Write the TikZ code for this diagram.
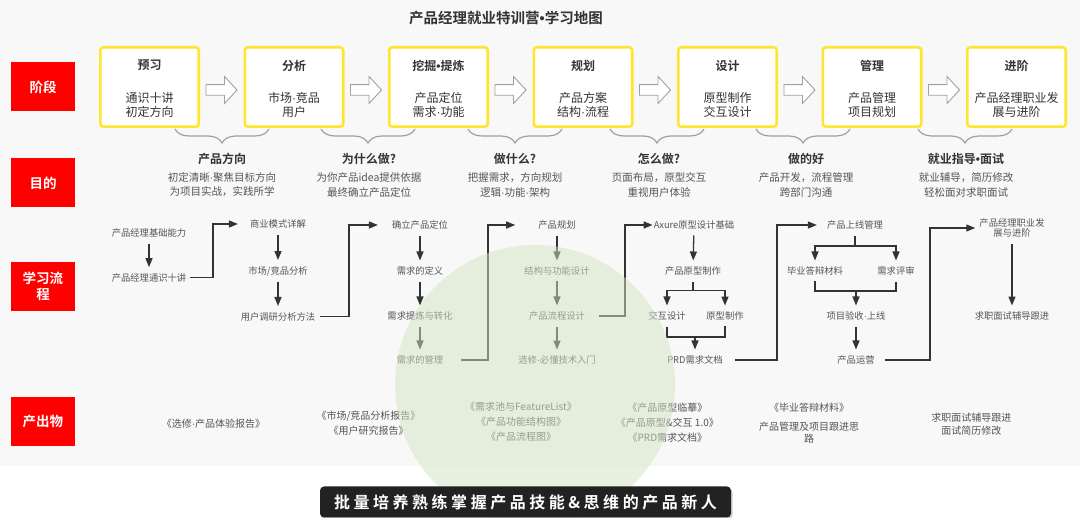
\documentclass[tikz,border=0pt]{standalone}
\usepackage{fontspec}
\setmainfont{Noto Sans CJK SC}[BoldFont={Noto Sans CJK SC Bold}]
\newfontfamily\lemafont{Noto Sans CJK SC Bold}[LetterSpace=22]
\newfontfamily\xifont{Liberation Sans}
\newcommand{\dian}{{\xifont ·}}
\newcommand{\yuan}{{\xifont •}}
\usetikzlibrary{positioning,arrows.meta,decorations.pathreplacing,shadows}
\definecolor{hong}{HTML}{FF0000}
\definecolor{huang}{HTML}{FFE52E}
\definecolor{hui}{HTML}{F8F8F8}
\definecolor{xian}{HTML}{333333}
\definecolor{wenzi}{HTML}{555555}
\definecolor{lv}{HTML}{D3E5C2}
\definecolor{kuohao}{HTML}{A0A0A0}
\definecolor{hei}{HTML}{222222}

\begin{document}
\begin{tikzpicture}[x=1pt, y=-1pt, >={Triangle[length=9pt,width=7pt]},
      tag/.style={fill=hong, text=white, font=\fontsize{13.5}{16}\selectfont\bfseries,
                  minimum width=64pt, minimum height=49pt, inner sep=0pt, align=center},
      stage/.style={draw=huang, line width=2.6pt, fill=white, rounded corners=3pt,
                    minimum width=98.4pt, minimum height=79.4pt},
      stit/.style={font=\fontsize{12}{14}\selectfont\bfseries, text=xian},
      sbody/.style={font=\fontsize{12}{14.5}\selectfont, text=xian, align=center},
      hollow/.style={draw=kuohao, fill=white, line width=0.9pt},
      brc/.style={draw=kuohao, line width=1.2pt, decorate,
                  decoration={brace, mirror, amplitude=14pt}},
      gtit/.style={font=\fontsize{12}{14}\selectfont\bfseries, text=xian},
      gbody/.style={font=\fontsize{10.5}{14.2}\selectfont, text=wenzi, align=center},
      fn/.style={font=\fontsize{9.3}{10.5}\selectfont, text=wenzi, inner xsep=0pt,
                 inner ysep=6pt, align=center},
      fl/.style={draw=xian, line width=1.3pt},
      prod/.style={font=\fontsize{10}{15}\selectfont, text=wenzi, align=center}]
    \useasboundingbox (0,0) rectangle (1080,518);
    \clip (0,0) rectangle (1080,518);
    \fill[white] (0,0) rectangle (1080,518);
    \fill[hui] (0,0) rectangle (1080,466);
    % titulo
    \node[font=\fontsize{14.5}{16}\selectfont\bfseries, text=xian] (titulo) at (506,18)
      {产品经理就业特训营\yuan 学习地图};
    % etiquetas rojas
    \node[tag] (t1) at (43,87) {阶段};
    \node[tag] (t2) at (43,183) {目的};
    \node[tag] (t3) at (43,286.7) {学习流\\程};
    \node[tag] (t4) at (43,421.6) {产出物};
    % etapas
    \foreach \t/\a/\b [count=\i] in {预习/通识十讲/初定方向, 分析/市场\dian 竞品/用户,
        挖掘\yuan 提炼/产品定位/需求\dian 功能, 规划/产品方案/结构\dian 流程, 设计/原型制作/交互设计,
        管理/产品管理/项目规划, 进阶/产品经理职业发/展与进阶} {
      \node[stage] (s\i) at ({149.5+144.5*(\i-1)},87) {};
      \node[stit] (st\i) at ({149.5+144.5*(\i-1)},65.5) {\t};
      \node[sbody] (sb\i) at ({149.5+144.5*(\i-1)},105) {\a\\\b};
    }
    \foreach \i in {1,...,6} {
      \pgfmathsetmacro{\cx}{221.5+144.5*(\i-1)}
      \draw[hollow] (\cx-15.5,84.7) -- (\cx+3,84.7) -- (\cx+3,76.5) -- (\cx+15.5,90)
        -- (\cx+3,103.5) -- (\cx+3,95.3) -- (\cx-15.5,95.3) -- cycle;
    }
    % objetivos
    \foreach \c in {222,368,515,657,803,965}
      \draw[brc] (\c-47,129) -- (\c+47,129);
    \foreach \c/\t/\a/\b [count=\i] in {222/产品方向/初定清晰\dian 聚焦目标方向/为项目实战，实践所学,
        369/为什么做?/为你产品idea提供依据/最终确立产品定位,
        515/做什么?/把握需求，方向规划/逻辑\dian 功能\dian 架构,
        659/怎么做?/页面布局，原型交互/重视用户体验,
        806/做的好/产品开发，流程管理/跨部门沟通,
        966/就业指导\yuan 面试/就业辅导，简历修改/轻松面对求职面试} {
      \node[gtit] (gt\i) at (\c,159) {\t};
      \node[gbody] (gb\i) at (\c,185) {\a\\\b};
    }
    % flujo
    \node[fn] (a1) at (149,233) {产品经理基础能力};
    \node[fn] (a2) at (149,277.7) {产品经理通识十讲};
    \node[fn] (b1) at (278,224) {商业模式详解};
    \node[fn] (b2) at (278,271) {市场/竞品分析};
    \node[fn] (b3) at (278,316.5) {用户调研分析方法};
    \node[fn] (c1) at (420,225) {确立产品定位};
    \node[fn] (c2) at (420,271) {需求的定义};
    \node[fn] (c3) at (420,316) {需求提炼与转化};
    \node[fn] (c4) at (420,360) {需求的管理};
    \node[fn] (d1) at (557,225) {产品规划};
    \node[fn] (d2) at (557,271) {结构与功能设计};
    \node[fn] (d3) at (557,316) {产品流程设计};
    \node[fn] (d4) at (557,360) {选修\dian 必懂技术入门};
    \node[fn] (e1) at (694,225) {Axure原型设计基础};
    \node[fn] (e2) at (693,271) {产品原型制作};
    \node[fn] (e3) at (667,316) {交互设计};
    \node[fn] (e4) at (725,316) {原型制作};
    \node[fn] (e5) at (695,360) {PRD需求文档};
    \node[fn] (f1) at (855,225) {产品上线管理};
    \node[fn] (f2) at (815,271) {毕业答辩材料};
    \node[fn] (f3) at (896,271) {需求评审};
    \node[fn] (f4) at (856,316) {项目验收\dian 上线};
    \node[fn] (f5) at (856,360) {产品运营};
    \node[fn] (k1) at (1012,228) {产品经理职业发\\展与进阶};
    \node[fn] (k2) at (1012,316) {求职面试辅导跟进};
    \draw[fl,->] (a1) -- (a2);
    \draw[fl,->] (b1) -- (b2); \draw[fl,->] (b2) -- (b3);
    \draw[fl,->] (c1) -- (c2); \draw[fl,->] (c2) -- (c3); \draw[fl,->] (c3) -- (c4);
    \draw[fl,->] (d1) -- (d2); \draw[fl,->] (d2) -- (d3); \draw[fl,->] (d3) -- (d4);
    \draw[fl,->] (e1) -- (e2);
    \coordinate (e2s) at (693,290.5);
    \draw[fl] (e2) -- (e2s); \draw[fl,->] (e2s) -| (e3); \draw[fl,->] (e2s) -| (e4);
    \coordinate (e5n) at (695,337);
    \draw[fl] (e3) |- (e5n) -| (e4); \draw[fl,->] (e5n) -- (e5);
    \coordinate (f1s) at (855,246);
    \draw[fl] (f1) -- (f1s); \draw[fl,->] (f1s) -| (f2); \draw[fl,->] (f1s) -| (f3);
    \coordinate (f4n) at (856,291);
    \draw[fl] (f2) |- (f4n) -| (f3); \draw[fl,->] (f4n) -- (f4);
    \draw[fl,->] (f4) -- (f5);
    \draw[fl,->] (k1) -- (k2);
    \draw[fl,->, shorten <=4pt, shorten >=12pt] (a2) -- (213,277.7) |- (b1);
    \draw[fl,->, shorten <=5pt, shorten >=14pt] (b3) -- (349,316.5) |- (c1);
    \draw[fl,->, shorten <=18pt, shorten >=23pt] (c4) -- (488,360) |- (d1);
    \draw[fl,->, shorten <=14pt, shorten >=1pt] (d3) -- (625,316) |- (e1);
    \draw[fl,->, shorten <=12pt, shorten >=10pt] (e5) -- (777,360) |- (f1);
    \draw[fl,->, shorten <=10pt, shorten >=4pt] (f5) -- (930,360) |- (k1);
    % productos
    \node[prod] (o1) at (213.5,424) {《选修\dian 产品体验报告》};
    \node[prod] (o2) at (368.5,423.6) {《市场/竞品分析报告》\\《用户研究报告》};
    \node[prod] (o3) at (521,421.7) {《需求池与FeatureList》\\《产品功能结构图》\\《产品流程图》};
    \node[prod] (o4) at (667.4,423) {《产品原型临摹》\\《产品原型\&交互 1.0》\\《PRD需求文档》};
    \node[prod, font=\fontsize{10}{11.5}\selectfont] (o5) at (809,423)
      {《毕业答辩材料》\\[8pt]产品管理及项目跟进思\\路};
    \node[prod, font=\fontsize{10}{13}\selectfont] (o6) at (971.3,424.5)
      {求职面试辅导跟进\\面试简历修改};
    % circulo
    \fill[lv, opacity=0.5] (535,385) circle (140);
    % lema
    \node[fill=hei, rounded corners=4pt, text=white, minimum width=411pt, minimum height=31pt,
          drop shadow={opacity=0.35, shadow xshift=1.5pt, shadow yshift=-2pt},
          font=\lemafont\fontsize{16}{18}\selectfont] (lema) at (525.5,502)
      {批量培养熟练掌握产品技能\&思维的产品新人};
  \end{tikzpicture}
\end{document}
